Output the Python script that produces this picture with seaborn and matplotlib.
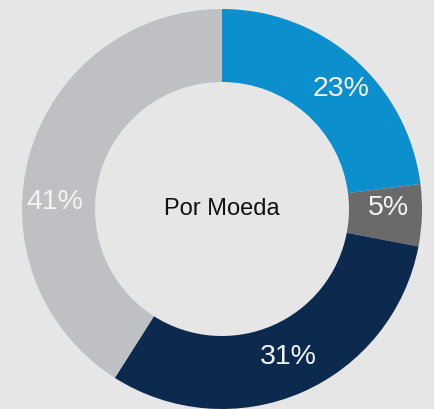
import matplotlib
matplotlib.use("Agg")
import matplotlib.pyplot as plt
import seaborn as sns
import numpy as np

# dados do gráfico (participação por moeda)
categorias = ["Azul", "Cinza escuro", "Marinho", "Cinza claro"]
valores = [23, 5, 31, 41]
rotulos = ["23%", "5%", "31%", "41%"]
cores = ["#0B8FCD", "#6A6A6A", "#0C2A4E", "#BEC0C3"]
titulo_centro = "Por Moeda"

# posição dos rótulos (ângulo em graus, raio relativo)
angulos_rotulo = [45, 0.5, -66, 177.5]
raios_rotulo = [0.845, 0.83, 0.81, 0.835]

sns.set_theme(style="white")
plt.rcParams["font.family"] = ["Liberation Sans", "DejaVu Sans"]

fundo = "#E6E6E6"
fig = plt.figure(figsize=(4.35, 4.09), dpi=100)
fig.patch.set_facecolor(fundo)
ax = fig.add_axes([0, 0, 1, 1])
ax.set_facecolor(fundo)

wedges, _ = ax.pie(valores, colors=cores, startangle=90, counterclock=False,
                   radius=1.0, wedgeprops=dict(width=0.365, linewidth=0))

# rótulos de porcentagem dentro do anel
for txt, a, r in zip(rotulos, angulos_rotulo, raios_rotulo):
    ang = np.deg2rad(a)
    ax.text(r * np.cos(ang), r * np.sin(ang), txt, ha="center", va="center",
            fontsize=20.5, color="#F4F4F4")

ax.text(0.0, 0.0, titulo_centro, ha="center", va="center", fontsize=17, color="#111111")

ax.set_xlim(-222 / 200, (435 - 222) / 200)
ax.set_ylim(-200 / 200, 209 / 200)
ax.set_aspect("equal")
ax.axis("off")

fig.savefig("out.png", dpi=100, facecolor=fundo)
